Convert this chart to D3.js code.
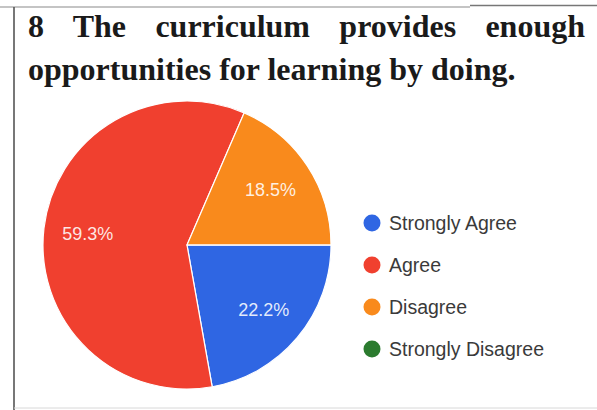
<!DOCTYPE html>
<html>
<head>
<meta charset="utf-8">
<script src="https://cdn.jsdelivr.net/npm/d3@7"></script>
<style>
  html, body { margin: 0; padding: 0; background: #fff; }
  svg { display: block; }
</style>
</head>
<body>
<svg id="chart" width="597" height="410"></svg>
<script>
const titleLines = ["8 The curriculum provides enough", "opportunities for learning by doing."];
const categories = ["Strongly Agree", "Agree", "Disagree", "Strongly Disagree"];
const values = [22.2, 59.3, 18.5, 0];
const colors = ["#2f66e3", "#f0402f", "#f98a1c", "#2b7b2f"];

const svg = d3.select("#chart");
const W = 597, H = 410;

// frame lines (scanned table borders)
svg.append("line").attr("x1", 0).attr("x2", 470).attr("y1", 7).attr("y2", 7)
  .attr("stroke", "#b0b0b0").attr("stroke-width", 1.5);
svg.append("line").attr("x1", 470).attr("x2", W).attr("y1", 5.5).attr("y2", 5.5)
  .attr("stroke", "#777").attr("stroke-width", 1.5);
svg.append("line").attr("x1", 14).attr("x2", 14).attr("y1", 7).attr("y2", H)
  .attr("stroke", "#555").attr("stroke-width", 1.6);
svg.append("line").attr("x1", 14).attr("x2", W).attr("y1", 408).attr("y2", 408)
  .attr("stroke", "#d8d8d8").attr("stroke-width", 1);

// Title, justified first line
const tx0 = 28, tx1 = 585;
const title = svg.append("g")
  .attr("font-family", "'Liberation Serif', 'Times New Roman', serif")
  .attr("font-weight", "bold").attr("font-size", 32).attr("fill", "#1a1a1a");
titleLines.forEach((t, i) => {
  const el = title.append("text").attr("x", tx0).attr("y", 37 + i * 43).text(t);
  if (i === 0) {
    const natural = el.node().getComputedTextLength();
    const spaces = t.split(" ").length - 1;
    el.attr("word-spacing", (tx1 - tx0 - natural) / spaces);
  }
});

// Pie
const cx = 187, cy = 245, r = 144;
const pie = d3.pie().sort(null).value(d => d)
  .startAngle(Math.PI / 2).endAngle(Math.PI / 2 + 2 * Math.PI);
const arcs = pie(values);
const arc = d3.arc().innerRadius(0).outerRadius(r);
const labelArc = d3.arc().innerRadius(100).outerRadius(100);
const color = d3.scaleOrdinal().domain(categories).range(colors);

const g = svg.append("g").attr("transform", `translate(${cx},${cy})`);
g.selectAll("path").data(arcs).join("path")
  .attr("d", arc)
  .attr("fill", (d, i) => color(categories[i]))
  .attr("stroke", "#fff").attr("stroke-width", 1.2);

g.selectAll("text").data(arcs.filter(d => d.value > 0)).join("text")
  .attr("transform", d => `translate(${labelArc.centroid(d)})`)
  .attr("text-anchor", "middle").attr("dy", "0.35em")
  .attr("font-family", "'Liberation Sans', Arial, sans-serif")
  .attr("font-size", 18).attr("fill", "#fff").attr("fill-opacity", 0.88)
  .text(d => d.value.toFixed(1) + "%");

// Legend
const legend = svg.append("g")
  .attr("font-family", "'Liberation Sans', Arial, sans-serif")
  .attr("font-size", 19.5).attr("fill", "#3a3a3a");
const ly = d3.scalePoint().domain(categories).range([223, 349]);
categories.forEach(c => {
  legend.append("circle").attr("cx", 372).attr("cy", ly(c)).attr("r", 8.5).attr("fill", color(c));
  legend.append("text").attr("x", 389).attr("y", ly(c)).attr("dy", "0.36em").text(c);
});
</script>
</body>
</html>
